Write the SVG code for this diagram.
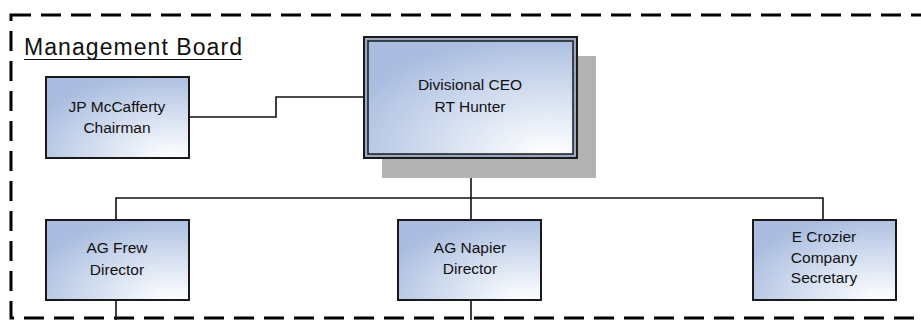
<svg xmlns="http://www.w3.org/2000/svg" width="921" height="320" viewBox="0 0 921 320">
<defs>
<radialGradient id="g" cx="0.88" cy="1" r="1.05" fx="0.88" fy="1">
<stop offset="0" stop-color="#ffffff"/>
<stop offset="0.35" stop-color="#e2e9f5"/>
<stop offset="1" stop-color="#aabde0"/>
</radialGradient>
<style>
.box{fill:url(#g);stroke:#1a1a1a;stroke-width:2}
.t{font-family:"Liberation Sans",Arial,sans-serif;font-size:15.5px;fill:#111;text-anchor:middle}
.c{fill:none;stroke:#111;stroke-width:1.6}
</style>
</defs>
<rect x="11" y="15" width="960" height="303" fill="none" stroke="#000" stroke-width="3" stroke-dasharray="20 10"/>
<text x="24" y="55" font-family="'Liberation Sans',Arial,sans-serif" font-size="23" fill="#111" textLength="218" lengthAdjust="spacing">Management Board</text>
<line x1="24" y1="59.5" x2="242" y2="59.5" stroke="#111" stroke-width="1.2"/>
<g id="connectors">
<polyline class="c" points="189,117 276,117 276,97 364,97"/>
<polyline class="c" points="471,158 471,220"/>
<polyline class="c" points="116,220 116,198 823,198 823,220"/>
<line class="c" x1="116" y1="300" x2="116" y2="320"/>
<line class="c" x1="471" y1="300" x2="471" y2="320"/>
</g>
<g id="jp">
<rect class="box" x="46" y="77" width="143" height="81"/>
<text class="t" x="117" y="112">JP McCafferty</text>
<text class="t" x="117" y="133">Chairman</text>
</g>
<g id="ceo">
<rect x="382" y="56" width="214" height="122" fill="#b3b3b3"/>
<rect x="364" y="37" width="213" height="121" fill="#9aa8c4" stroke="#1a1a1a" stroke-width="2"/>
<rect x="368" y="41" width="205" height="113" fill="url(#g)" stroke="#1a1a1a" stroke-width="1.5"/>
<text class="t" x="470" y="90">Divisional CEO</text>
<text class="t" x="470" y="112">RT Hunter</text>
</g>
<g id="frew">
<rect class="box" x="46" y="220" width="143" height="80"/>
<text class="t" x="117" y="253">AG Frew</text>
<text class="t" x="117" y="275">Director</text>
</g>
<g id="napier">
<rect class="box" x="398" y="220" width="143" height="80"/>
<text class="t" x="470" y="253">AG Napier</text>
<text class="t" x="470" y="274">Director</text>
</g>
<g id="crozier">
<rect class="box" x="753" y="220" width="143" height="80"/>
<text class="t" x="824" y="242">E Crozier</text>
<text class="t" x="824" y="263">Company</text>
<text class="t" x="824" y="283">Secretary</text>
</g>
</svg>
